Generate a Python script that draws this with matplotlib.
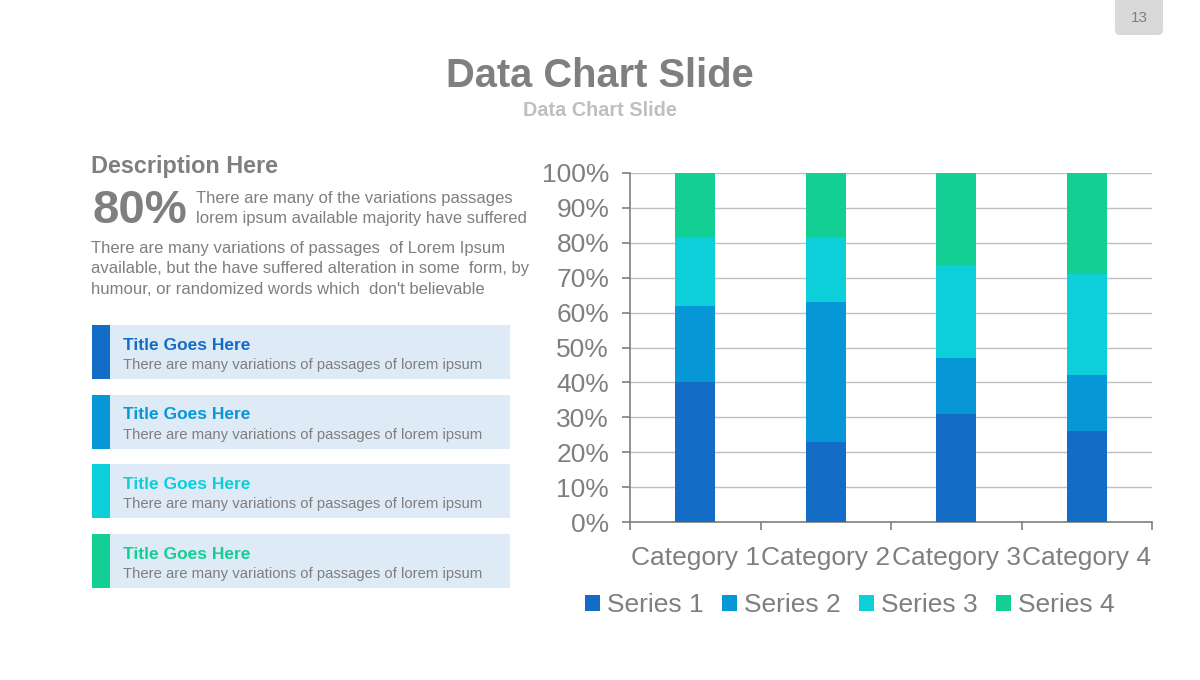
import matplotlib.pyplot as plt
from matplotlib.patches import FancyBboxPatch, Rectangle
import numpy as np

plt.rcParams["font.family"] = ["Liberation Sans", "DejaVu Sans"]

# values (percent of each category)
categories = ["Category 1", "Category 2", "Category 3", "Category 4"]
series_names = ["Series 1", "Series 2", "Series 3", "Series 4"]
series_1 = [40, 23, 31, 26]
series_2 = [22, 40, 16, 16]
series_3 = [19.4, 18.6, 26.5, 29]
series_4 = [18.6, 18.4, 26.5, 29]
y_ticks = [0, 10, 20, 30, 40, 50, 60, 70, 80, 90, 100]

COLORS = ["#136DC7", "#0797D6", "#0CCFDA", "#13CF93"]
GREY = "#7F7F7F"
LIGHT_GREY = "#BFBFBF"
BOX_FILL = "#DEEAF6"

W, H = 1200, 680


def px(x, y):
    """pixel coords (top-left origin) -> figure fraction"""
    return x / W, 1 - y / H


def main():
    fig = plt.figure(figsize=(12, 6.8), dpi=100)
    bg = fig.add_axes([0, 0, 1, 1])
    bg.set_xlim(0, W)
    bg.set_ylim(H, 0)
    bg.axis("off")

    # page number tab
    bg.add_patch(FancyBboxPatch((1115, -10), 48, 45,
                                boxstyle="round,pad=0,rounding_size=5",
                                facecolor="#D9D9D9", edgecolor="none"))
    bg.text(1139, 18, "13", ha="center", va="center", fontsize=11, color=GREY)

    # titles
    bg.text(600, 76, "Data Chart Slide", ha="center", va="center",
            fontsize=28.7, fontweight="bold", color=GREY)
    bg.text(600, 110, "Data Chart Slide", ha="center", va="center",
            fontsize=14.3, fontweight="bold", color=LIGHT_GREY)

    # description block
    bg.text(91, 166, "Description Here", ha="left", va="center",
            fontsize=16.8, fontweight="bold", color=GREY)
    bg.text(92, 211, "80%", ha="left", va="center",
            fontsize=34, fontweight="bold", color=GREY)
    bg.text(196, 198, "There are many of the variations passages", ha="left",
            va="center", fontsize=12, color=GREY)
    bg.text(196, 218, "lorem ipsum available majority have suffered", ha="left",
            va="center", fontsize=12, color=GREY)
    para = ["There are many variations of passages  of Lorem Ipsum",
            "available, but the have suffered alteration in some  form, by",
            "humour, or randomized words which  don't believable"]
    for i, line in enumerate(para):
        bg.text(91, 248 + i * 20.5, line, ha="left", va="center",
                fontsize=12, color=GREY)

    # title cards
    for i, c in enumerate(COLORS):
        top = 325 + i * 69.7
        bg.add_patch(Rectangle((92, top), 418, 54, facecolor=BOX_FILL,
                               edgecolor="none"))
        bg.add_patch(Rectangle((92, top), 18, 54, facecolor=c, edgecolor="none"))
        bg.text(123, top + 20, "Title Goes Here", ha="left", va="center",
                fontsize=12.5, fontweight="bold", color=c)
        bg.text(123, top + 40, "There are many variations of passages of lorem ipsum",
                ha="left", va="center", fontsize=10.7, color=GREY)

    # chart
    l, b = px(630, 522)
    r, t = px(1152, 173)
    ax = fig.add_axes([l, b, r - l, t - b])
    x = np.arange(len(categories))
    bottom = np.zeros(len(categories))
    for name, vals, c in zip(series_names, [series_1, series_2, series_3, series_4], COLORS):
        ax.bar(x, vals, 0.31, bottom=bottom, color=c, label=name, zorder=3)
        bottom += np.array(vals)

    ax.set_xlim(-0.5, len(categories) - 0.5)
    ax.set_ylim(0, 100)
    ax.set_yticks(y_ticks)
    ax.set_yticklabels([f"{v}%" for v in y_ticks])
    ax.set_xticks(x)
    ax.set_xticklabels(categories)
    ax.set_xticks(np.arange(-0.5, len(categories)), minor=True)
    ax.tick_params(axis="x", which="major", length=0, pad=17,
                   labelsize=19, labelcolor=GREY)
    ax.tick_params(axis="x", which="minor", length=6, width=1.2, color=GREY)
    ax.tick_params(axis="y", length=6, width=1.2, color=GREY, pad=9,
                   labelsize=19, labelcolor=GREY)
    ax.grid(axis="y", color="#BFBFBF", linewidth=1, zorder=0)
    for s in ["top", "right"]:
        ax.spines[s].set_visible(False)
    for s in ["left", "bottom"]:
        ax.spines[s].set_color(GREY)
        ax.spines[s].set_linewidth(1.2)

    handles, labels = ax.get_legend_handles_labels()
    fig.legend(handles, labels, loc="center", bbox_to_anchor=px(850, 605),
               ncol=4, frameon=False, fontsize=19, labelcolor=GREY,
               handlelength=0.55, handleheight=0.55, handletextpad=0.27,
               columnspacing=0.71)

    fig.savefig("out.png", dpi=100)


if __name__ == "__main__":
    main()
